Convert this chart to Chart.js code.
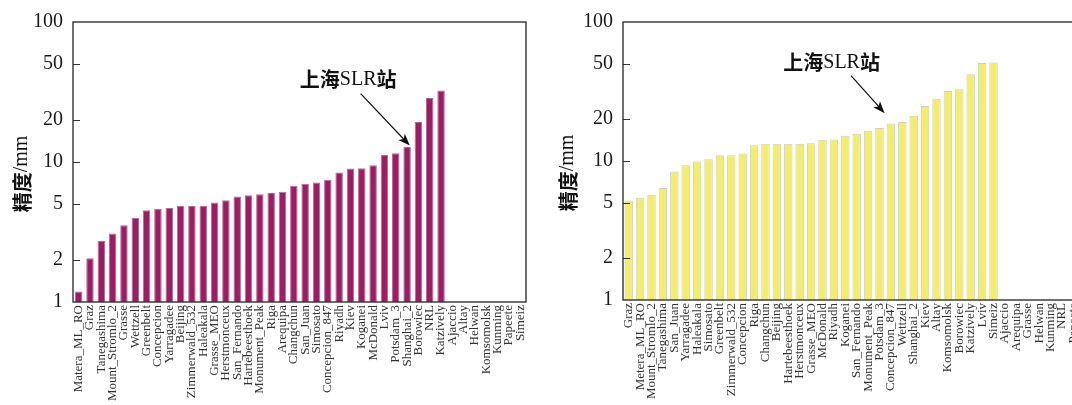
<!DOCTYPE html>
<html>
<head>
<meta charset="utf-8">
<script src="https://cdn.jsdelivr.net/npm/chart.js@4.4.0/dist/chart.umd.min.js"></script>
<style>
    html, body { margin: 0; padding: 0; background: #fff; overflow: hidden; width: 1072px; height: 405px; }
    canvas { position: absolute; top: 0; }
    #leftChart { left: 0; }
    #rightChart { left: 540px; }
</style>
</head>
<body>
<canvas id="leftChart" width="540" height="405"></canvas>
<canvas id="rightChart" width="540" height="405"></canvas>
<script>
// log axis ticks
const yTicks = [1, 2, 5, 10, 20, 50, 100];

// left panel
const stationsLeft = [
    'Matera_ML_RO', 'Graz', 'Tanegashima', 'Mount_Stromlo_2', 'Grasse', 'Wettzell',
    'Greenbelt', 'Concepcion', 'Yarragadee', 'Beijing', 'Zimmerwald_532', 'Haleakala',
    'Grasse_MEO', 'Herstmonceux', 'San_Fernando', 'Hartebeesthoek', 'Monument_Peak',
    'Riga', 'Arequipa', 'Changchun', 'San_Juan', 'Simosato', 'Concepcion_847', 'Riyadh',
    'Kiev', 'Koganei', 'McDonald', 'Lviv', 'Potsdam_3', 'Shanghai_2', 'Borowiec', 'NRL',
    'Katzively', 'Ajaccio', 'Altay', 'Helwan', 'Komsomolsk', 'Kunming', 'Papeete', 'Simeiz'
];
const precisionLeft = [
    1.19, 2.05, 2.73, 3.09, 3.53, 3.99, 4.52, 4.64, 4.69, 4.87, 4.87, 4.87,
    5.14, 5.34, 5.66, 5.78, 5.88, 6.0, 6.14, 6.76, 6.98, 7.13, 7.48, 8.42,
    8.98, 9.03, 9.48, 11.2, 11.56, 12.8, 19.3, 28.6, 32.4
];

// right panel
const stationsRight = [
    'Graz', 'Metera_ML_RO', 'Mount_Stromlo_2', 'Tanegashima', 'San_Juan', 'Yarragadee',
    'Haleakala', 'Simosato', 'Greenbelt', 'Zimmerwald_532', 'Concepcion', 'Riga',
    'Changchun', 'Beijing', 'Hartebeesthoek', 'Herstmonceux', 'Grasse_MEO', 'McDonald',
    'Riyadh', 'Koganei', 'San_Fernando', 'Monument_Peak', 'Potsdam_3', 'Concepcion_847',
    'Wettzell', 'Shanghai_2', 'Kiev', 'Altay', 'Komsomolsk', 'Borowiec', 'Katzively',
    'Lviv', 'Simeiz', 'Ajaccio', 'Arequipa', 'Grasse', 'Helwan', 'Kunming', 'NRL', 'Papeete'
];
const precisionRight = [
    5.2, 5.44, 5.71, 6.4, 8.4, 9.32, 9.9, 10.3, 11.0, 11.0, 11.3, 13.0,
    13.3, 13.3, 13.3, 13.3, 13.4, 14.2, 14.3, 15.2, 15.7, 16.5, 17.3, 18.6,
    19.1, 21.2, 24.9, 28.0, 31.9, 32.8, 42.1, 50.6, 51.2
];

const serif = '"Liberation Serif", "DejaVu Serif", serif';
const cjk = '"Noto Sans CJK SC", sans-serif';

// draws mixed CJK / latin text centred at (cx, cy)
function drawMixed(ctx, text, cx, cy, size) {
    const parts = [...text].map((ch) => {
        const isCjk = ch.charCodeAt(0) > 0x2e80;
        const font = isCjk ? `bold ${size}px ${cjk}` : `${size}px ${serif}`;
        ctx.font = font;
        return { ch, font, w: ctx.measureText(ch).width };
    });
    const total = parts.reduce((s, p) => s + p.w, 0);
    let px = cx - total / 2;
    ctx.textBaseline = 'middle';
    ctx.textAlign = 'left';
    parts.forEach((p) => {
        ctx.font = p.font;
        ctx.fillText(p.ch, px, cy);
        px += p.w;
    });
}

const framePlugin = {
    id: 'frame',
    afterDatasetsDraw(chart, args, opts) {
        const { ctx, chartArea: a, scales } = chart;
        const x = scales.x, y = scales.y;
        ctx.save();
        ctx.strokeStyle = '#333';
        ctx.lineWidth = 1.4;
        ctx.strokeRect(a.left, a.top, a.right - a.left, a.bottom - a.top);

        // inward ticks
        ctx.lineWidth = 1;
        yTicks.forEach((v) => {
            if (v === 1 || v === 100) return;
            const py = Math.round(y.getPixelForValue(v)) + 0.5;
            ctx.beginPath();
            ctx.moveTo(a.left, py);
            ctx.lineTo(a.left + 7, py);
            ctx.stroke();
        });

        // y title
        ctx.fillStyle = '#111';
        ctx.save();
        ctx.translate(a.left + opts.titleDx, (a.top + a.bottom) / 2 + 12);
        ctx.rotate(-Math.PI / 2);
        drawMixed(ctx, '精度/mm', 0, 0, 20);
        ctx.restore();

        // annotation arrow
        const n = opts.note;
        const tx = x.getPixelForValue(n.tip[0]), ty = y.getPixelForValue(n.tip[1]);
        const sx = x.getPixelForValue(n.from[0]), sy = y.getPixelForValue(n.from[1]);
        const ang = Math.atan2(ty - sy, tx - sx);
        ctx.strokeStyle = '#111';
        ctx.lineWidth = 1.2;
        ctx.beginPath();
        ctx.moveTo(sx, sy);
        ctx.lineTo(tx - 8 * Math.cos(ang), ty - 8 * Math.sin(ang));
        ctx.stroke();
        ctx.beginPath();
        ctx.moveTo(tx, ty);
        ctx.lineTo(tx - 12 * Math.cos(ang) + 4.5 * Math.sin(ang), ty - 12 * Math.sin(ang) - 4.5 * Math.cos(ang));
        ctx.lineTo(tx - 9 * Math.cos(ang), ty - 9 * Math.sin(ang));
        ctx.lineTo(tx - 12 * Math.cos(ang) - 4.5 * Math.sin(ang), ty - 12 * Math.sin(ang) + 4.5 * Math.cos(ang));
        ctx.closePath();
        ctx.fillStyle = '#111';
        ctx.fill();
        drawMixed(ctx, '上海SLR站', x.getPixelForValue(n.text[0]), y.getPixelForValue(n.text[1]), 20);
        ctx.restore();
    },
};

function makeChart(id, labels, values, o) {
    return new Chart(document.getElementById(id).getContext('2d'), {
        type: 'bar',
        data: {
            labels: labels,
            datasets: [{
                data: values,
                backgroundColor: o.color,
                borderColor: o.border,
                borderWidth: 1,
                categoryPercentage: 1,
                barPercentage: o.barPct,
            }],
        },
        options: {
            responsive: false,
            animation: false,
            layout: { padding: { top: o.top, right: o.right, left: 0, bottom: 0 } },
            plugins: {
                legend: { display: false },
                tooltip: { enabled: false },
                frame: { titleDx: o.titleDx, note: o.note },
            },
            scales: {
                x: {
                    grid: { display: false, drawTicks: false },
                    border: { display: false },
                    ticks: {
                        autoSkip: false,
                        minRotation: 90,
                        maxRotation: 90,
                        padding: 3,
                        color: '#333',
                        font: { family: serif, size: 13 },
                    },
                    afterFit: (s) => {
                        s.height = o.xHeight;
                        s.paddingLeft = 0;
                        s.paddingRight = 0;
                    },
                },
                y: {
                    type: 'logarithmic',
                    min: 1,
                    max: 100,
                    grid: { display: false, drawTicks: false },
                    border: { display: false },
                    afterBuildTicks: (s) => {
                        s.ticks = yTicks.map((v) => ({ value: v }));
                    },
                    ticks: {
                        padding: 10,
                        color: '#1a1a1a',
                        font: { family: serif, size: 20 },
                        callback: (v) => String(v),
                    },
                    afterFit: (s) => { s.width = o.yWidth; },
                },
            },
        },
        plugins: [framePlugin],
    });
}

makeChart('leftChart', stationsLeft, precisionLeft, {
    color: '#9b1d63',
    border: '#b56a93',
    barPct: 0.66,
    top: 15,
    right: 14,
    xHeight: 103,
    yWidth: 73,
    titleDx: -51,
    note: { tip: [29.24, 13.1], from: [24.9, 30.8], text: [23.8, 38.8] },
});

makeChart('rightChart', stationsRight, precisionRight, {
    color: '#f3ec6c',
    border: '#cfcfbc',
    barPct: 0.74,
    top: 20,
    right: 1,
    xHeight: 105,
    yWidth: 83,
    titleDx: -55,
    note: { tip: [22.45, 22.1], from: [19.5, 41.1], text: [17.8, 50.9] },
});
</script>
</body>
</html>
